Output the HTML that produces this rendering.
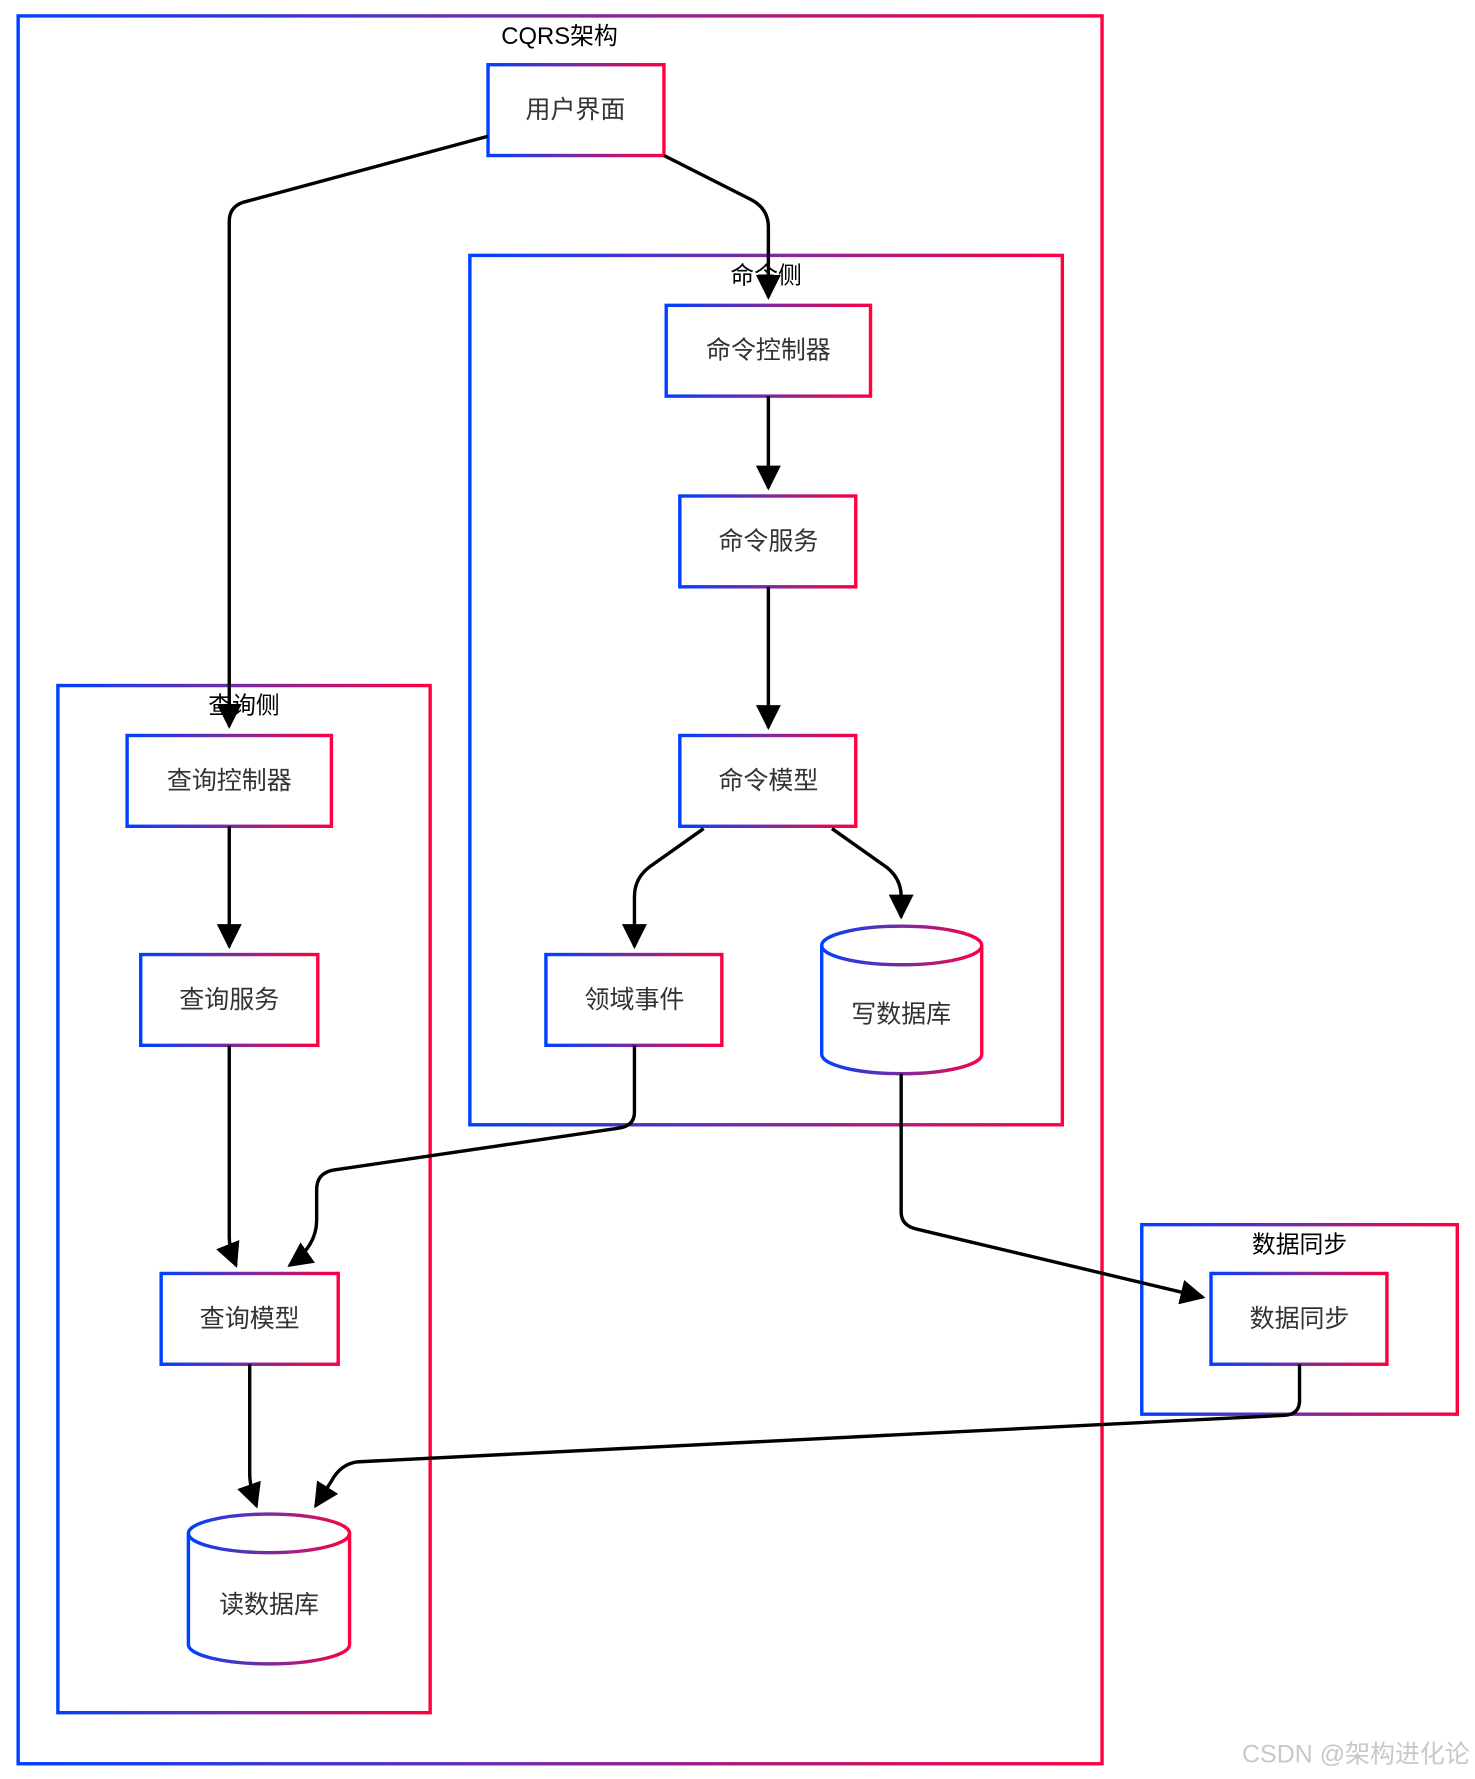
<!DOCTYPE html>
<html><head><meta charset="utf-8"><style>
html,body{margin:0;padding:0;background:#fff;}
svg{display:block;}
text{font-family:"Liberation Sans","Noto Sans CJK SC",sans-serif;}
.n{fill:#333;font-size:22px;text-anchor:middle;dominant-baseline:central;}
.t{fill:#000;font-size:21px;text-anchor:middle;dominant-baseline:central;}
.b{fill:#fff;stroke:url(#g);stroke-width:3;}
.c{fill:none;stroke:url(#g);stroke-width:3;}
.e{fill:none;stroke:#000;stroke-width:3;}
</style></head><body>
<svg width="1475" height="1779" viewBox="0 0 1299.6 1567.4" xmlns="http://www.w3.org/2000/svg">
<defs>
<linearGradient id="g" x1="0" y1="0" x2="1" y2="0">
<stop offset="0" stop-color="#0040ff"/><stop offset="0.5" stop-color="#7a2aa0"/><stop offset="1" stop-color="#ff0040"/>
</linearGradient>
<marker id="a" viewBox="0 0 10 10" refX="9" refY="5" markerWidth="7" markerHeight="7" markerUnits="userSpaceOnUse" orient="auto">
<path d="M0,0 L10,5 L0,10 z" fill="#000"/></marker>
<marker id="m" viewBox="0 0 10 10" refX="9" refY="5" markerWidth="22" markerHeight="22" markerUnits="userSpaceOnUse" orient="auto">
<path d="M0,0 L10,5 L0,10 z" fill="#000"/></marker>
</defs>
<rect x="16" y="14" width="955" height="1540" class="c"/>
<text x="493" y="32" class="t">CQRS架构</text>
<rect x="414" y="225" width="522" height="766" class="c"/>
<text x="675" y="243" class="t">命令侧</text>
<rect x="51" y="604" width="328" height="905" class="c"/>
<text x="215" y="622" class="t">查询侧</text>
<rect x="1006" y="1079" width="278" height="167" class="c"/>
<text x="1145" y="1097" class="t">数据同步</text>

<rect x="430" y="57" width="155" height="80" class="b"/><text x="507" y="97" class="n">用户界面</text>
<rect x="587" y="269" width="180" height="80" class="b"/><text x="677" y="309" class="n">命令控制器</text>
<rect x="599" y="437" width="155" height="80" class="b"/><text x="677" y="477" class="n">命令服务</text>
<rect x="599" y="648" width="155" height="80" class="b"/><text x="677" y="688" class="n">命令模型</text>
<rect x="481" y="841" width="155" height="80" class="b"/><text x="559" y="881" class="n">领域事件</text>
<path d="M724,833 L724,929 A70.5,17 0 0 0 865,929 L865,833 A70.5,17 0 0 0 724,833 Z" class="b"/>
<path d="M724,833 A70.5,17 0 0 0 865,833" class="c"/>
<text x="794" y="894" class="n">写数据库</text>
<rect x="112" y="648" width="180" height="80" class="b"/><text x="202" y="688" class="n">查询控制器</text>
<rect x="124" y="841" width="156" height="80" class="b"/><text x="202" y="881" class="n">查询服务</text>
<rect x="142" y="1122" width="156" height="80" class="b"/><text x="220" y="1162" class="n">查询模型</text>
<path d="M166,1351 L166,1449 A71,17 0 0 0 308,1449 L308,1351 A71,17 0 0 0 166,1351 Z" class="b"/>
<path d="M166,1351 A71,17 0 0 0 308,1351" class="c"/>
<text x="237" y="1414" class="n">读数据库</text>
<rect x="1067" y="1122" width="155" height="80" class="b"/><text x="1145" y="1162" class="n">数据同步</text>

<path d="M430,120 L215,178 Q202,182 202,195 L202,640" class="e" marker-end="url(#m)"/>
<path d="M585,137 L662,176 Q677,184 677,200 L677,262" class="e" marker-end="url(#m)"/>
<path d="M677,349 L677,430" class="e" marker-end="url(#m)"/>
<path d="M677,517 L677,641" class="e" marker-end="url(#m)"/>
<path d="M620,730 L572,764 Q559,774 559,790 L559,834" class="e" marker-end="url(#m)"/>
<path d="M733,730 L781,764 Q794,774 794,790 L794,808" class="e" marker-end="url(#m)"/>
<path d="M202,728 L202,834" class="e" marker-end="url(#m)"/>
<path d="M202,921 L202,1090 Q202,1100 208,1115" class="e" marker-end="url(#m)"/>
<path d="M559,921 L559,980 Q559,992 545,994 L293,1031 Q279,1034 279,1048 L279,1075 Q279,1098 255,1115" class="e" marker-end="url(#m)"/>
<path d="M794,946 L794,1068 Q794,1080 808,1083 L1060,1143" class="e" marker-end="url(#m)"/>
<path d="M1145,1202 L1145,1234 Q1145,1246 1132,1247 L315,1288 Q300,1290 292,1305 L278,1327" class="e" marker-end="url(#m)"/>
<path d="M220,1202 L220,1298 Q220,1310 226,1327" class="e" marker-end="url(#m)"/>

<text x="1295" y="1546" text-anchor="end" font-size="22" fill="#c8c8c8" dominant-baseline="central">CSDN @架构进化论</text>
</svg>
</body></html>
